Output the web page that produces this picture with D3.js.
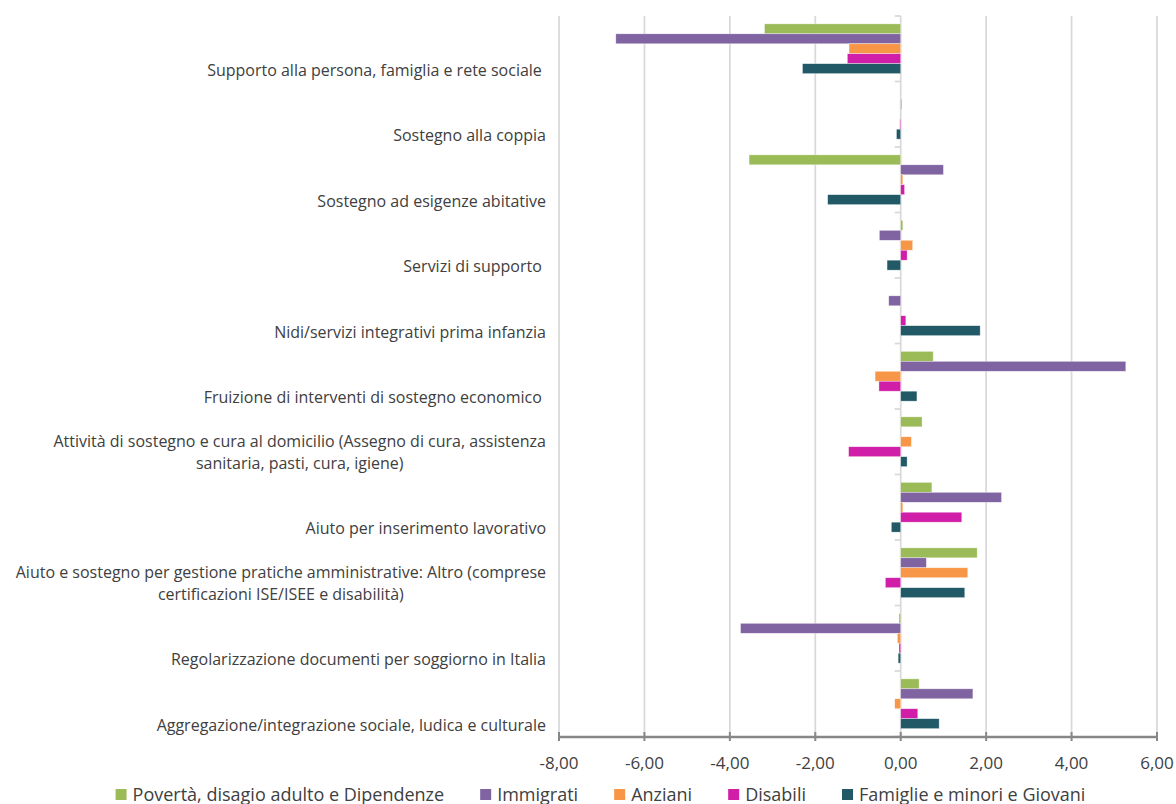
<!DOCTYPE html>
<html>
<head>
<meta charset="utf-8">
<script src="https://cdn.jsdelivr.net/npm/d3@7"></script>
<style>
  html, body { margin: 0; padding: 0; background: #ffffff; }
  svg text { font-family: "Open Sans", "Noto Sans", sans-serif; fill: #404040; white-space: pre; }
</style>
</head>
<body>
<svg id="chart" width="1176" height="804"></svg>
<script>
// Category labels (top to bottom); multi-line labels are split on "\n"
const categories = [
  "Supporto alla persona, famiglia e rete sociale ",
  "Sostegno alla coppia",
  "Sostegno ad esigenze abitative",
  "Servizi di supporto ",
  "Nidi/servizi integrativi prima infanzia",
  "Fruizione di interventi di sostegno economico ",
  "Attività di sostegno e cura al domicilio (Assegno di cura, assistenza\nsanitaria, pasti, cura, igiene)",
  "Aiuto per inserimento lavorativo",
  "Aiuto e sostegno per gestione pratiche amministrative: Altro (comprese\ncertificazioni ISE/ISEE e disabilità)",
  "Regolarizzazione documenti per soggiorno in Italia",
  "Aggregazione/integrazione sociale, ludica e culturale"
];

const seriesNames = [
  "Povertà, disagio adulto e Dipendenze",
  "Immigrati",
  "Anziani",
  "Disabili",
  "Famiglie e minori e Giovani"
];

// Values per series, in category order
const poverta  = [-3.19,  0.00, -3.55,  0.05,  0.00,  0.76,  0.50,  0.73,  1.79, -0.04,  0.43];
const immigrati = [-6.67,  0.02,  1.00, -0.50, -0.28,  5.27,  0.00,  2.36,  0.60, -3.75,  1.69];
const anziani  = [-1.21,  0.00,  0.05,  0.28,  0.00, -0.60,  0.25,  0.05,  1.57, -0.08, -0.14];
const disabili = [-1.25, -0.02,  0.09,  0.15,  0.12, -0.51, -1.22,  1.43, -0.36, -0.04,  0.40];
const famiglie = [-2.30, -0.10, -1.71, -0.32,  1.86,  0.38,  0.15, -0.22,  1.50, -0.06,  0.90];

const seriesValues = [poverta, immigrati, anziani, disabili, famiglie];
const seriesColors = ["#9bbb59", "#8064a2", "#f79646", "#d01ea9", "#215967"];

const xTicks = [-8, -6, -4, -2, 0, 2, 4, 6];
const xDomain = [-8, 6];

const svg = d3.select("#chart");

const plot = { left: 559, right: 1157, top: 16, bottom: 736.5 };

const x = d3.scaleLinear().domain(xDomain).range([plot.left, plot.right]);

const y = d3.scaleBand()
  .domain(d3.range(categories.length))
  .range([plot.top, plot.bottom])
  .paddingInner(0.24)
  .paddingOuter(0.12);

const ySub = d3.scaleBand()
  .domain(d3.range(seriesNames.length))
  .range([0, y.bandwidth()]);

const step = y.step();
const groupTop = i => plot.top + i * step;

// Vertical gridlines
svg.append("g")
  .selectAll("line")
  .data(xTicks)
  .join("line")
  .attr("x1", d => x(d)).attr("x2", d => x(d))
  .attr("y1", plot.top).attr("y2", plot.bottom)
  .attr("stroke", "#d9d9d9")
  .attr("stroke-width", 1.75);

// Category axis at zero with tick marks between groups
const catAxis = svg.append("g");
catAxis.selectAll("line.tk")
  .data(d3.range(categories.length + 1))
  .join("line")
  .attr("class", "tk")
  .attr("x1", x(0) - 6).attr("x2", x(0))
  .attr("y1", i => groupTop(i)).attr("y2", i => groupTop(i))
  .attr("stroke", "#d9d9d9")
  .attr("stroke-width", 1.75);

// Bars
const rows = [];
seriesValues.forEach((vals, s) => {
  vals.forEach((v, c) => rows.push({ s, c, v }));
});

svg.append("g")
  .selectAll("rect")
  .data(rows.filter(d => d.v !== 0))
  .join("rect")
  .attr("x", d => x(Math.min(0, d.v)))
  .attr("width", d => Math.abs(x(d.v) - x(0)))
  .attr("y", d => y(d.c) + ySub(d.s))
  .attr("height", ySub.bandwidth())
  .attr("fill", d => seriesColors[d.s])
  .attr("stroke", "#ffffff")
  .attr("stroke-opacity", 0.6)
  .attr("stroke-width", 0.6);

// Bottom value axis
const axisY = 737;
const xAxis = svg.append("g");
xAxis.append("line")
  .attr("x1", plot.left).attr("x2", plot.right)
  .attr("y1", axisY).attr("y2", axisY)
  .attr("stroke", "#878787")
  .attr("stroke-width", 2.5);
xAxis.selectAll("line.tk")
  .data(xTicks)
  .join("line")
  .attr("class", "tk")
  .attr("x1", d => x(d)).attr("x2", d => x(d))
  .attr("y1", axisY - 5).attr("y2", axisY + 4)
  .attr("stroke", "#878787")
  .attr("stroke-width", 2);
const fmt = d => d3.format(".2f")(d).replace(".", ",").replace("−", "-");
xAxis.selectAll("text")
  .data(xTicks)
  .join("text")
  .attr("x", d => x(d))
  .attr("y", 769)
  .attr("text-anchor", "middle")
  .style("font-size", "17px")
  .text(fmt);

// Category labels, right-aligned; wrapped lines centred within the block
const labelRight = 546;
const lineGap = 22;
const labels = svg.append("g");
categories.forEach((label, i) => {
  const lines = label.split("\n");
  const lastCenter = groupTop(i) + step / 2 + 21.5;
  const g = labels.append("g");
  const texts = lines.map((ln, k) => g.append("text")
    .attr("y", lastCenter - (lines.length - 1 - k) * lineGap)
    .attr("dy", "0.35em")
    .style("font-size", "16px")
    .text(ln));
  if (lines.length === 1) {
    texts[0].attr("x", labelRight).attr("text-anchor", "end");
  } else {
    const w = d3.max(texts, t => t.node().getComputedTextLength());
    texts.forEach(t => t.attr("x", labelRight - w / 2).attr("text-anchor", "middle"));
  }
});

// Legend, centred below the axis
const legend = svg.append("g");
const items = seriesNames.map((name, s) => {
  const g = legend.append("g");
  g.append("rect").attr("width", 11).attr("height", 11).attr("y", 789).attr("fill", seriesColors[s]);
  const t = g.append("text").attr("x", 17).attr("y", 800.5).style("font-size", "18px").text(name);
  return { g, w: 17 + t.node().getComputedTextLength() };
});
const gap = 36;
const total = d3.sum(items, d => d.w) + gap * (items.length - 1);
let cx = 600.5 - total / 2;
items.forEach(it => {
  it.g.attr("transform", `translate(${cx},0)`);
  cx += it.w + gap;
});
</script>
</body>
</html>
